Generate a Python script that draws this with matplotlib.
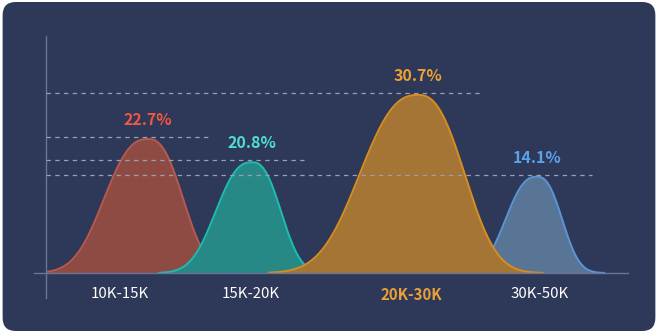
import numpy as np
import matplotlib.pyplot as plt
from matplotlib.patches import FancyBboxPatch

plt.rcParams['font.family'] = ['Noto Sans CJK SC', 'DejaVu Sans']

# data
categories = ["10K-15K", "15K-20K", "20K-30K", "30K-50K"]
pct = [22.7, 20.8, 30.7, 14.1]
peak = [23.1, 19.1, 30.7, 16.6]      # drawn height of each mountain (axis units)

# layout (x in pixel-like units from the y axis)
centers = [102, 206, 372, 491]
label_x = [74, 205, 365, 494]
dash_end = [166, 258, 434, 546]

fills = ["#8e4b44", "#268985", "#a47534", "#587596"]
edges = ["#b65a4f", "#1bbdb3", "#d68e23", "#5c95d6"]
txt_col = ["#f2573f", "#4fded6", "#eda132", "#5aa2ea"]
zorders = [2, 3, 5, 4]

bg = "#2e3858"
axis_col = "#6b7496"
px_per_unit = 5.8

fig = plt.figure(figsize=(6.58, 3.33), dpi=100, facecolor="white")
card = FancyBboxPatch((0.004, 0.006), 0.992, 0.988, boxstyle="round,pad=0,rounding_size=0.02",
                      transform=fig.transFigure, facecolor=bg, edgecolor="none",
                      mutation_aspect=658/333, zorder=-10)
fig.add_artist(card)

W, H = 658, 333
ax = fig.add_axes([46/W, (H-273)/H, (628-46)/W, (273-36)/H])
ax.set_facecolor("none")
ax.set_zorder(1)
ax.set_xlim(0, 582)
ax.set_ylim(0, 237/px_per_unit)
for s in ax.spines.values():
    s.set_visible(False)
ax.set_yticks([])

# mountain symbol: skewed bell, scaled with its height
def mountain(c, h, p=2.5):
    hp = h * px_per_unit
    hl, hr = 0.35*hp, 0.28*hp
    x = np.linspace(c - 2.4*hl, c + 2.5*hr, 400)
    s = np.where(x < c, hl, hr)
    y = h * np.exp(-np.log(2) * np.abs((x - c)/s)**p)
    return x, y

for i in range(len(categories)):
    x, y = mountain(centers[i], peak[i])
    ax.fill_between(x, 0, y, color=fills[i], zorder=zorders[i], lw=0)
    ax.plot(x, y, color=edges[i], lw=1.4, zorder=zorders[i]+0.1, solid_capstyle="round")
    ax.plot([0, dash_end[i]], [peak[i] + 0.35]*2, color="#9aa0b4", lw=0.9,
            dashes=(3.5, 3.5), zorder=10)
    ax.annotate(f"{pct[i]}%", (centers[i], peak[i]), xytext=(0, 13.8),
                textcoords="offset points", ha="center", va="center",
                color=txt_col[i], fontsize=11.5, fontweight="bold", zorder=11)

# axis lines
ax.plot([-12, 582], [0, 0], color=axis_col, lw=1, clip_on=False, zorder=9)
ax.plot([0, 0], [-25/px_per_unit, 237/px_per_unit], color=axis_col, lw=1, clip_on=False, zorder=9)

ax.set_xticks(label_x)
ax.set_xticklabels(categories, fontsize=10.8)
ax.tick_params(axis="x", length=0, pad=10)
for i, t in enumerate(ax.get_xticklabels()):
    if i == 2:
        t.set_color("#eba035")
        t.set_fontweight("bold")
    else:
        t.set_color("white")

fig.savefig("out.png", dpi=100, facecolor="white")
